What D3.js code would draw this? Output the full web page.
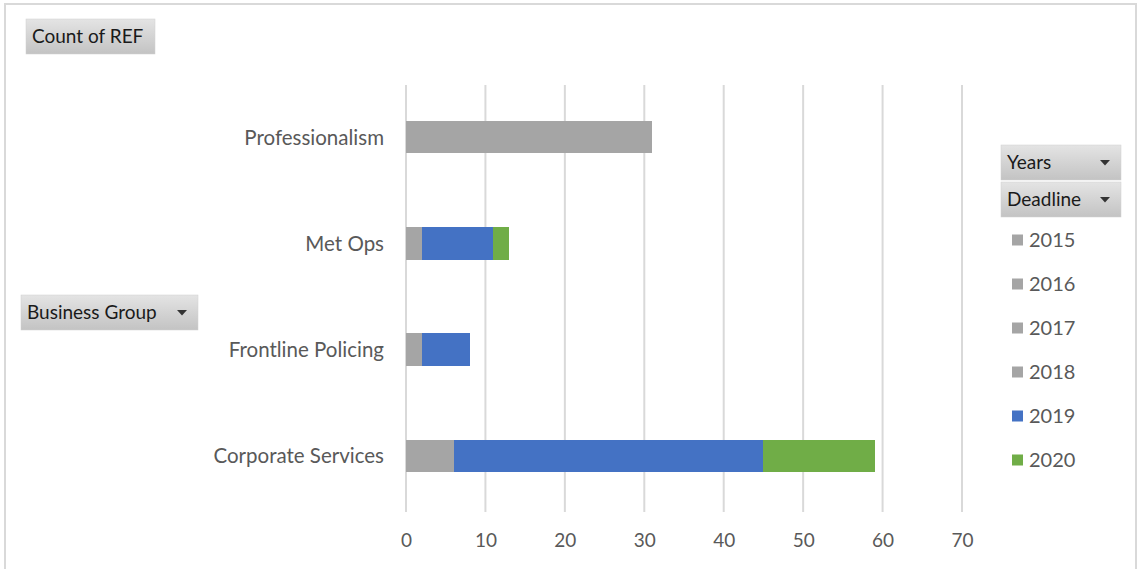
<!DOCTYPE html>
<html>
<head>
<meta charset="utf-8">
<script src="https://cdn.jsdelivr.net/npm/d3@7"></script>
<style>
  html, body { margin: 0; padding: 0; background: #fff; }
  svg { display: block; }
  text { font-family: Lato, "Open Sans", sans-serif; }
</style>
</head>
<body>
<svg id="chart" width="1138" height="569"></svg>
<script>
// ---- data ----
const categories = ["Professionalism", "Met Ops", "Frontline Policing", "Corporate Services"];
const years = ["2015", "2016", "2017", "2018", "2019", "2020"];
const yearColors = ["#A5A5A5", "#A5A5A5", "#A5A5A5", "#A5A5A5", "#4472C4", "#70AD47"];
// values per year, in category order
const v2015 = [0, 0, 0, 0];
const v2016 = [0, 0, 0, 0];
const v2017 = [22, 0, 0, 3];
const v2018 = [9, 2, 2, 3];
const v2019 = [0, 9, 6, 39];
const v2020 = [0, 2, 0, 14];
const xTicks = [0, 10, 20, 30, 40, 50, 60, 70];

const seriesValues = [v2015, v2016, v2017, v2018, v2019, v2020];
const rows = categories.map((c, i) => {
  const r = { cat: c };
  years.forEach((y, k) => r[y] = seriesValues[k][i]);
  return r;
});

const svg = d3.select("#chart");

// outer frame
svg.append("rect").attr("x", 5).attr("y", 4).attr("width", 1131).attr("height", 575)
  .attr("fill", "#fff").attr("stroke", "#d9d9d9").attr("stroke-width", 2);

const x = d3.scaleLinear().domain([0, 70]).range([406, 962]);
const y = d3.scaleBand().domain(categories).range([84, 509]).paddingInner(0.694).paddingOuter(0.347);

// gridlines
svg.append("g").selectAll("line").data(xTicks).join("line")
  .attr("x1", d => x(d)).attr("x2", d => x(d))
  .attr("y1", 85).attr("y2", 512)
  .attr("stroke", "#d9d9d9").attr("stroke-width", 2);

// stacked bars
const stack = d3.stack().keys(years)(rows);
svg.append("g").attr("shape-rendering", "crispEdges").selectAll("g").data(stack).join("g")
  .attr("fill", (d, i) => yearColors[i])
  .selectAll("rect").data(d => d.filter(s => s[1] - s[0] > 0)).join("rect")
  .attr("x", d => x(d[0]))
  .attr("width", d => x(d[1]) - x(d[0]))
  .attr("y", d => y(d.data.cat))
  .attr("height", y.bandwidth());

// x axis labels
const xAxis = d3.axisBottom(x).tickValues(xTicks).tickSize(0).tickPadding(0);
const gx = svg.append("g").attr("transform", "translate(0,533)").call(xAxis);
gx.select(".domain").remove();
gx.selectAll("text").attr("font-size", 19).attr("fill", "#595959")
  .attr("font-family", "Lato, sans-serif");

// y axis labels
const yAxis = d3.axisLeft(y).tickSize(0).tickPadding(0);
const gy = svg.append("g").attr("transform", "translate(384,1)").call(yAxis);
gy.select(".domain").remove();
gy.selectAll("text").attr("font-size", 20.5).attr("fill", "#595959")
  .attr("font-family", "Lato, sans-serif");

// gradient for buttons
const defs = svg.append("defs");
const grad = defs.append("linearGradient").attr("id", "btn").attr("x1", 0).attr("y1", 0).attr("x2", 0).attr("y2", 1);
grad.append("stop").attr("offset", "0%").attr("stop-color", "#e4e4e4");
grad.append("stop").attr("offset", "100%").attr("stop-color", "#c3c3c3");

function button(bx, by, w, h, label, arrow) {
  const g = svg.append("g");
  g.append("rect").attr("x", bx).attr("y", by).attr("width", w).attr("height", h)
    .attr("fill", "url(#btn)").attr("stroke", "#d0d0d0").attr("stroke-width", 0.5);
  g.append("text").attr("x", bx + 6).attr("y", by + h / 2).attr("dy", "0.35em")
    .attr("font-size", 19).attr("fill", "#1a1a1a").text(label);
  if (arrow) {
    const ax = bx + w - 16, ay = by + h / 2;
    g.append("path").attr("d", `M${ax - 5},${ay - 2.5}L${ax + 5},${ay - 2.5}L${ax},${ay + 3}Z`)
      .attr("fill", "#333");
  }
}
button(26, 19, 129, 35, "Count of REF", false);
button(21, 295, 177, 35, "Business Group", true);
button(1001, 145, 120, 35, "Years", true);
button(1001, 182, 120, 35, "Deadline", true);

// legend
const leg = svg.append("g").selectAll("g").data(years).join("g")
  .attr("transform", (d, i) => `translate(1012,${240 + i * 44})`);
leg.append("rect").attr("x", 0).attr("y", -5.5).attr("width", 11).attr("height", 11)
  .attr("fill", (d, i) => yearColors[i]);
leg.append("text").attr("x", 17).attr("y", 0).attr("dy", "0.35em")
  .attr("font-size", 20).attr("fill", "#595959").text(d => d);
</script>
</body>
</html>
